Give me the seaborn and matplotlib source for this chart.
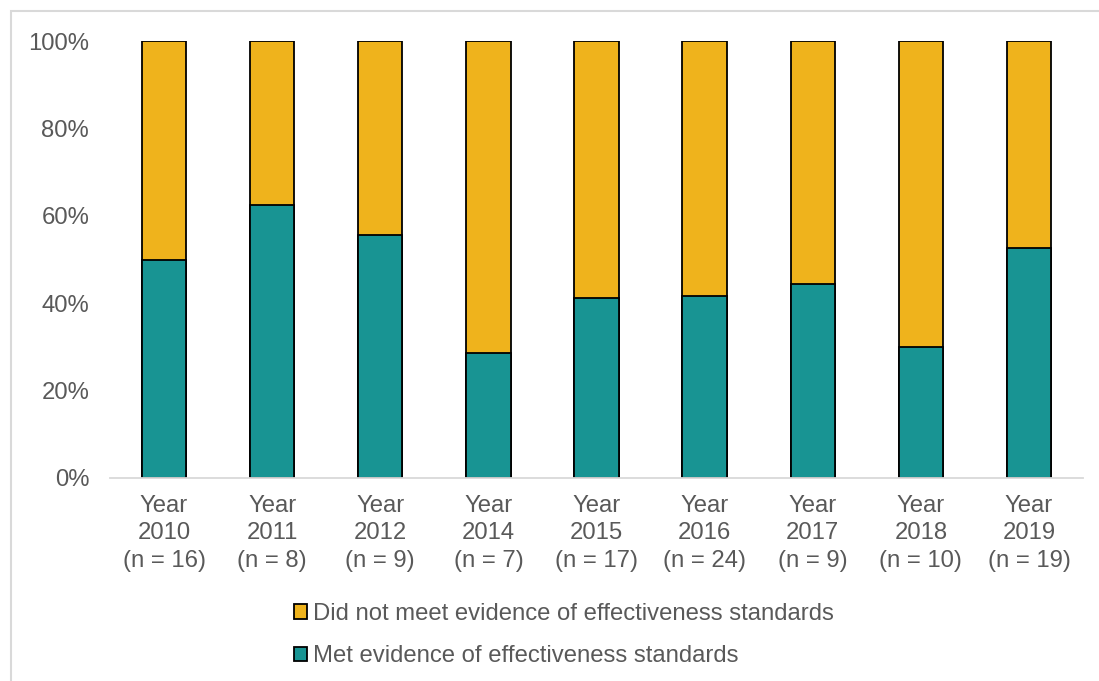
import matplotlib
matplotlib.use("Agg")
import matplotlib.pyplot as plt
import seaborn as sns
import pandas as pd
from matplotlib.patches import Rectangle

years = ["2010", "2011", "2012", "2014", "2015", "2016", "2017", "2018", "2019"]
n_counts = [16, 8, 9, 7, 17, 24, 9, 10, 19]
met_pct = [50.0, 62.5, 55.6, 28.6, 41.2, 41.7, 44.4, 30.0, 52.6]
total_pct = [100] * len(years)
series_labels = ["Did not meet evidence of effectiveness standards",
                 "Met evidence of effectiveness standards"]
tick_labels = [f"Year\n{y}\n(n = {n})" for y, n in zip(years, n_counts)]

gold = "#EFB31C"
teal = "#189493"
grey = "#595959"

sns.set_theme(style="white")
plt.rcParams['font.family'] = ['Liberation Sans', 'DejaVu Sans']

df = pd.DataFrame({"label": tick_labels, "total": total_pct, "met": met_pct})

fig = plt.figure(figsize=(10.99, 6.81), dpi=100)
ax = fig.add_axes([110/1099, 1 - 478/681, 973/1099, (478-41)/681])

sns.barplot(data=df, x="label", y="total", color=gold, width=0.41,
            edgecolor="black", linewidth=1.3, saturation=1, ax=ax,
            label=series_labels[0])
sns.barplot(data=df, x="label", y="met", color=teal, width=0.41,
            edgecolor="black", linewidth=1.3, saturation=1, ax=ax,
            label=series_labels[1])

ax.set_ylim(0, 100)
ax.set_xlim(-0.5, len(years) - 0.5)
ax.set_yticks([0, 20, 40, 60, 80, 100])
ax.set_yticklabels([f"{v}%" for v in [0, 20, 40, 60, 80, 100]])
ax.set_xlabel("")
ax.set_ylabel("")
for s in ["top", "right", "left"]:
    ax.spines[s].set_visible(False)
ax.spines["bottom"].set_color("#D9D9D9")
ax.spines["bottom"].set_linewidth(1.3)
ax.tick_params(axis="both", length=0, labelsize=17.2, colors=grey)
ax.tick_params(axis="y", pad=15)
ax.tick_params(axis="x", pad=12)
for t in ax.get_xticklabels():
    t.set_linespacing(1.33)

if ax.legend_:
    ax.legend_.remove()
handles = [Rectangle((0, 0), 1, 1, facecolor=gold, edgecolor="black", linewidth=1.3),
           Rectangle((0, 0), 1, 1, facecolor=teal, edgecolor="black", linewidth=1.3)]
fig.legend(handles, series_labels, loc="upper left",
           bbox_to_anchor=(294/1099, 1 - 603/681), frameon=False,
           fontsize=17.2, labelcolor=grey, handlelength=0.55, handleheight=0.55,
           handletextpad=0.25, labelspacing=0.85, borderpad=0, borderaxespad=0)

fig.patches.append(Rectangle((11/1099, -0.5), 2, 1.5 - 11/681,
                             transform=fig.transFigure, fill=False,
                             edgecolor="#D9D9D9", linewidth=1.5))

fig.savefig("out.png", dpi=100)
